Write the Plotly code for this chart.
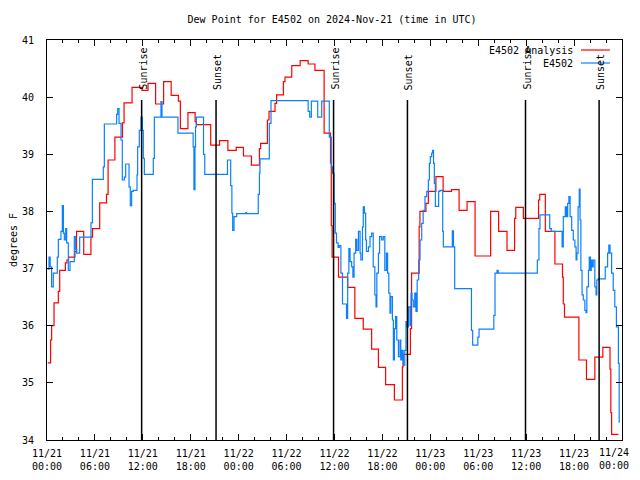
import pandas as pd
import plotly.graph_objects as go

# ---- data (hours after 2024-11-21 00:00 UTC, degrees F) ----
start = pd.Timestamp("2024-11-21 00:00")

analysis_hours = [0.1, 0.45, 0.58, 0.88, 1.42, 1.59, 2.3, 2.5, 2.7, 3.5, 3.7, 4.6, 5.5, 5.7, 6.6,
                  7.45, 7.65, 8.5, 9.45, 9.65, 10.65, 11.9, 12.65, 13.6, 14.6, 15.55, 16.45, 16.7,
                  17.65, 18.55, 18.7, 20.5, 21.6, 22.65, 23.7, 24.6, 25.6, 26.6, 26.75, 27.6, 27.8,
                  28.55, 28.75, 29.6, 29.8, 30.65, 31.7, 32.7, 33.55, 34.7, 35.5, 35.6, 35.7, 36.5,
                  37.65, 38.55, 39.6, 40.65, 41.5, 42.4, 43.5, 44.5, 44.6, 45.5, 45.65, 46.6, 46.7,
                  47.45, 47.75, 48.7, 49.6, 50.65, 51.6, 52.6, 53.6, 55.55, 56.55, 57.6, 58.55, 58.7,
                  59.65, 61.55, 61.7, 62.4, 63.6, 64.55, 64.65, 64.8, 66.6, 67.55, 68.6, 69.6, 70.5,
                  70.6, 70.7, 71.55]
analysis_values = [35.35, 35.75, 36.0, 36.4, 36.6, 36.97, 37.1, 37.15, 37.2, 37.3, 37.65, 37.25, 37.55,
                   37.7, 38.15, 38.3, 38.9, 39.3, 39.55, 39.9, 40.17, 40.12, 40.24, 39.88, 40.27, 40.03,
                   39.93, 39.45, 39.73, 39.57, 39.52, 39.16, 39.24, 39.07, 39.12, 38.97, 38.81, 39.1,
                   39.19, 39.6, 39.75, 39.89, 40.04, 40.27, 40.35, 40.55, 40.64, 40.58, 40.47, 39.37,
                   38.85, 37.75, 37.2, 36.85, 36.67, 36.13, 35.94, 35.59, 35.27, 34.97, 34.7, 35.28,
                   35.5, 35.95, 36.92, 37.73, 38.0, 38.14, 38.35, 38.61, 38.35, 38.38, 38.02, 38.17,
                   37.22, 38.0, 37.65, 37.32, 37.88, 38.07, 37.88, 38.2, 38.3, 37.65, 37.08, 36.85,
                   36.38, 36.15, 35.4, 35.06, 35.45, 35.62, 35.24, 34.48, 34.1, 34.1]

station_hours = [0.08, 0.25, 0.4, 0.58, 0.79, 1.29, 1.42, 1.75, 1.92, 2.05, 2.17, 2.34, 2.46, 2.67,
                 2.88, 3.42, 3.59, 3.71, 4.09, 5.51, 5.68, 7.05, 7.18, 8.72, 8.85, 9.02, 9.27, 9.43,
                 9.68, 9.85, 10.27, 10.43, 10.6, 10.81, 11.27, 11.35, 11.56, 11.77, 11.94, 12.06,
                 12.19, 13.31, 13.44, 14.27, 14.4, 16.4, 18.3, 18.4, 18.53, 18.6, 18.7, 19.6, 19.75,
                 22.6, 23.0, 23.15, 23.25, 23.42, 23.75, 24.9, 25.0, 26.45, 26.6, 26.67, 27.84,
                 28.05, 32.7, 32.9, 33.1, 33.9, 34.4, 35.35, 35.6, 35.75, 35.95, 36.1, 36.25, 36.45,
                 36.6, 36.8, 37.0, 37.5, 37.65, 37.8, 37.95, 38.15, 38.3, 38.45, 38.65, 38.8, 39.0,
                 39.2, 39.3, 39.5, 39.6, 39.75, 39.9, 40.0, 40.25, 40.45, 40.65, 40.85, 41.05, 41.2,
                 41.3, 41.5, 41.65, 41.9, 42.1, 42.3, 42.5, 42.65, 42.8, 42.95, 43.05, 43.25, 43.37,
                 43.5, 43.65, 43.8, 44.0, 44.2, 44.3, 44.45, 44.6, 44.8, 44.95, 45.1, 45.25, 45.45,
                 45.58, 45.7, 45.87, 46.05, 46.2, 46.35, 46.54, 46.71, 46.92, 47.1, 47.33, 47.55,
                 47.75, 47.88, 48.0, 48.17, 48.29, 48.4, 48.5, 48.63, 49.04, 49.21, 49.55, 49.63,
                 50.75, 50.9, 51.05, 53.15, 53.3, 53.95, 54.1, 55.95, 56.1, 56.35, 56.5, 61.4, 61.6,
                 61.73, 62.95, 63.15, 64.5, 64.65, 64.9, 65.05, 65.2, 65.35, 65.5, 65.7, 65.9, 66.1,
                 66.25, 66.35, 66.5, 66.65, 66.75, 66.85, 67.0, 67.15, 67.35, 67.5, 67.6, 67.8,
                 67.9, 68.05, 68.15, 68.3, 68.4, 68.6, 68.75, 68.85, 69.0, 69.9, 70.2, 70.35, 70.5,
                 70.7, 70.9, 71.1, 71.3, 71.55, 71.65]
station_values = [36.99, 37.2, 37.03, 36.68, 36.92, 37.2, 37.51, 37.65, 38.1, 37.62, 37.5, 37.7,
                  37.45, 36.97, 37.12, 37.56, 37.33, 37.27, 37.55, 37.8, 38.56, 38.78, 39.53, 39.7,
                  39.8, 39.54, 39.25, 38.55, 38.6, 38.83, 38.43, 38.1, 38.35, 38.37, 38.64, 39.13,
                  39.42, 39.65, 39.42, 38.93, 38.65, 38.93, 39.65, 39.92, 39.65, 39.37, 39.13, 38.38,
                  39.13, 39.48, 39.65, 39.0, 38.65, 38.9, 38.45, 37.97, 37.67, 37.91, 37.96, 37.98,
                  37.96, 38.3, 38.67, 38.92, 39.54, 39.94, 39.75, 39.65, 39.93, 39.65, 39.93, 39.3,
                  38.78, 38.67, 38.14, 37.62, 37.45, 37.37, 37.4, 36.92, 36.38, 36.13, 36.92, 37.35,
                  37.12, 37.03, 36.85, 37.27, 37.51, 37.32, 37.65, 37.27, 37.15, 37.73, 38.08, 37.97,
                  37.5, 37.3, 37.38, 37.56, 37.62, 37.03, 36.54, 36.33, 36.92, 37.27, 37.56, 37.5,
                  37.56, 36.97, 37.27, 36.92, 36.57, 36.22, 36.51, 36.1, 35.4, 35.95, 36.16, 35.75,
                  35.46, 35.75, 35.4, 35.57, 35.31, 35.57, 36.07, 35.98, 36.33, 36.0, 36.57, 36.45,
                  36.33, 36.57, 36.25, 36.8, 37.15, 37.5, 37.79, 38.02, 38.26, 38.35, 38.55, 38.84,
                  38.96, 39.02, 39.07, 38.84, 38.49, 38.09, 38.35, 38.37, 37.65, 37.38, 37.66, 37.38,
                  36.65, 35.92, 35.66, 35.8, 35.94, 36.18, 36.92, 36.97, 36.92, 37.15, 37.7, 37.94,
                  37.7, 37.65, 37.38, 37.91, 38.08, 37.91, 38.14, 38.26, 37.91, 37.67, 37.5, 37.38,
                  37.15, 37.27, 38.08, 38.39, 37.85, 36.97, 36.54, 36.45, 36.27, 36.23, 36.68, 36.97,
                  37.2, 36.97, 37.15, 37.03, 37.15, 36.68, 36.54, 36.8, 36.82, 37.03, 37.27, 37.41,
                  37.27, 36.92, 36.62, 36.33, 35.98, 35.34, 34.3]

sun_times = ["2024-11-21 11:51", "2024-11-21 21:10", "2024-11-22 11:53",
             "2024-11-22 21:08", "2024-11-23 11:55", "2024-11-23 21:08"]
sun_labels = ["Sunrise", "Sunset", "Sunrise", "Sunset", "Sunrise", "Sunset"]

tick_times = pd.date_range("2024-11-21 00:00", "2024-11-24 00:00", freq="6h")
tick_text = [t.strftime("%m/%d") + "<br>" + t.strftime("%H:%M") for t in tick_times]
y_ticks = [34, 35, 36, 37, 38, 39, 40, 41]

series_names = ["E4502 Analysis", "E4502"]
series_colors = ["#ff0000", "#0a80ff"]

# ---- figure ----
FONT = "DejaVu Sans Mono"
analysis_x = start + pd.to_timedelta(analysis_hours, unit="h")
station_x = start + pd.to_timedelta(station_hours, unit="h")

fig = go.Figure()
fig.add_trace(go.Scatter(x=analysis_x, y=analysis_values, mode="lines", line_shape="hv",
                         name=series_names[0], line=dict(color=series_colors[0], width=1.2)))
fig.add_trace(go.Scatter(x=station_x, y=station_values, mode="lines", line_shape="hv",
                         name=series_names[1], line=dict(color=series_colors[1], width=1.2)))

for t, lab in zip(sun_times, sun_labels):
    fig.add_shape(type="line", xref="x", yref="paper", x0=t, x1=t, y0=0, y1=0.85,
                  line=dict(color="black", width=1.5))
    fig.add_annotation(x=t, y=0.87, xref="x", yref="paper", text=lab, showarrow=False,
                       textangle=-90, xanchor="center", yanchor="bottom", xshift=1,
                       font=dict(family=FONT, size=10, color="black"))

# legend drawn gnuplot-style (text right, sample line after)
leg_y = [0.975, 0.9425]
for name, col, yy in zip(series_names, series_colors, leg_y):
    fig.add_annotation(x=0.9175, y=yy, xref="paper", yref="paper", text=name, showarrow=False,
                       xanchor="right", yanchor="middle",
                       font=dict(family=FONT, size=10, color="black"))
    fig.add_shape(type="line", xref="paper", yref="paper", x0=0.9287, x1=0.979, y0=yy, y1=yy,
                  line=dict(color=col, width=1.2))

# last tick label kept inside the visible page (right-aligned near the edge)
axis_text = tick_text[:-1] + [""]
fig.add_annotation(x=tick_times[-1], y=0, xref="x", yref="paper", text=tick_text[-1],
                   showarrow=False, xanchor="right", yanchor="top", align="center",
                   xshift=9, yshift=-5, font=dict(family=FONT, size=10, color="black"))

# page has an 8px body margin: figure sized so the page does not overflow the window
fig.update_layout(
    width=632, height=464,
    margin=dict(l=39, r=18, t=32, b=32, autoexpand=False),
    paper_bgcolor="white", plot_bgcolor="white",
    showlegend=False,
    font=dict(family=FONT, size=10, color="black"),
    title=dict(text="Dew Point for E4502 on 2024-Nov-21 (time in UTC)", x=0.5127, xanchor="center",
               xref="container", yref="container", y=1 - 11 / 464, yanchor="middle",
               automargin=False, font=dict(family=FONT, size=10, color="black")),
)
fig.update_xaxes(
    automargin=False, ticklabeloverflow="allow",
    range=[tick_times[0], tick_times[-1]], tickvals=tick_times, ticktext=axis_text,
    showgrid=False, zeroline=False, showline=True, linecolor="black", linewidth=1,
    mirror="ticks", ticks="inside", ticklen=6, tickcolor="black", tickwidth=1,
    minor=dict(ticks="inside", ticklen=3, tickcolor="black", dtick=2 * 3600 * 1000, showgrid=False),
    tickfont=dict(family=FONT, size=10, color="black"), ticklabelstandoff=4,
)
fig.update_yaxes(
    automargin=False,
    range=[34, 41], tickvals=y_ticks, ticktext=[str(v) for v in y_ticks],
    showgrid=False, zeroline=False, showline=True, linecolor="black", linewidth=1,
    mirror="ticks", ticks="inside", ticklen=6, tickcolor="black", tickwidth=1,
    tickfont=dict(family=FONT, size=10, color="black"), ticklabelstandoff=10,
    title=dict(text="degrees F", standoff=3, font=dict(family=FONT, size=10, color="black")),
)

fig.write_html("out.html")
